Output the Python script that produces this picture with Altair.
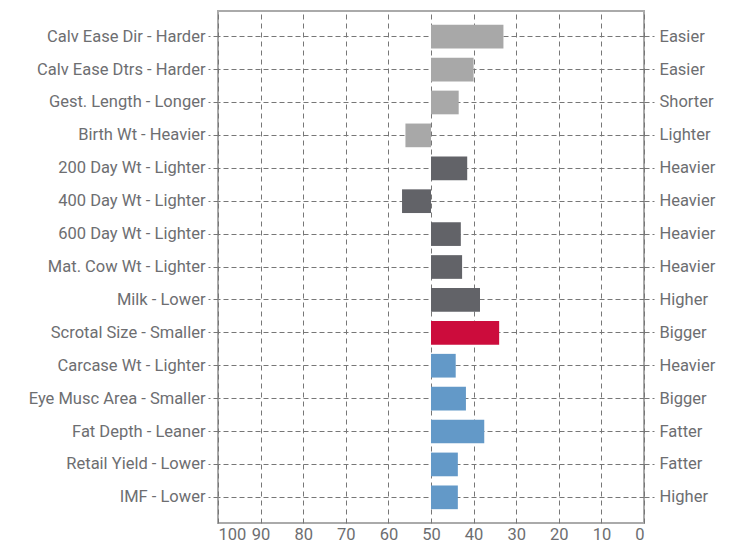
import json
import altair as alt
import pandas as pd

traits = [
    "Calv Ease Dir - Harder", "Calv Ease Dtrs - Harder", "Gest. Length - Longer",
    "Birth Wt - Heavier", "200 Day Wt - Lighter", "400 Day Wt - Lighter",
    "600 Day Wt - Lighter", "Mat. Cow Wt - Lighter", "Milk - Lower",
    "Scrotal Size - Smaller", "Carcase Wt - Lighter", "Eye Musc Area - Smaller",
    "Fat Depth - Leaner", "Retail Yield - Lower", "IMF - Lower",
]
right_labels = [
    "Easier", "Easier", "Shorter", "Lighter", "Heavier", "Heavier", "Heavier",
    "Heavier", "Higher", "Bigger", "Heavier", "Bigger", "Fatter", "Fatter", "Higher",
]
values = [33, 40, 43.5, 56, 41.5, 56.8, 43, 42.7, 38.5, 34, 44.2, 41.8, 37.5, 43.7, 43.7]
base = [50] * 15
groups = ["calving"] * 4 + ["growth"] * 5 + ["fertility"] + ["carcase"] * 5
group_domain = ["calving", "growth", "fertility", "carcase"]
group_colors = ["#a8a8a8", "#626368", "#cc0c3c", "#6399c8"]
x_ticks = [0, 10, 20, 30, 40, 50, 60, 70, 80, 90, 100]

df = pd.DataFrame({"trait": traits, "value": values, "base": base, "group": groups})

FONT = "Roboto"
FS = 16.5
TXT = "#6d6e71"
GRID = "#777777"

yscale = alt.Scale(paddingInner=0.28, paddingOuter=0.42)
xenc = alt.X(
    "value:Q",
    scale=alt.Scale(domain=[0, 100], reverse=True, nice=False),
    axis=alt.Axis(
        title=None, values=x_ticks, grid=True, gridDash=[5, 4], gridColor=GRID,
        gridOpacity=1, ticks=False, domain=False, labelFont=FONT, labelFontSize=FS,
        labelColor=TXT, labelPadding=3,
    ),
)

bars = alt.Chart(df).mark_bar().encode(
    x=xenc,
    x2="base:Q",
    y=alt.Y(
        "trait:N", sort=traits, scale=yscale,
        axis=alt.Axis(
            title=None, orient="left", grid=True, gridDash=[5, 3], gridColor=GRID,
            gridOpacity=1, domain=False, ticks=True, tickSize=10, tickDash=[5, 3],
            tickColor=GRID, labelFont=FONT, labelFontSize=FS, labelColor=TXT,
            labelPadding=3,
        ),
    ),
    color=alt.Color("group:N", scale=alt.Scale(domain=group_domain, range=group_colors), legend=None),
)

label_expr = "%s[indexof(%s, datum.value)]" % (json.dumps(right_labels), json.dumps(traits))

right = alt.Chart(df).mark_bar(opacity=0).encode(
    x=xenc,
    x2="base:Q",
    y=alt.Y(
        "trait:N", sort=traits, scale=yscale,
        axis=alt.Axis(
            title=None, orient="right", grid=False, domain=False, ticks=True, tickSize=10,
            tickDash=[5, 3], tickColor=GRID, labelFont=FONT, labelFontSize=FS,
            labelColor=TXT, labelPadding=5, labelExpr=label_expr,
        ),
    ),
)

chart = (
    alt.layer(bars, right)
    .resolve_axis(y="independent")
    .properties(
        width=426, height=512, background="white",
        padding={"left": 20, "top": 3, "right": 5, "bottom": 0},
    )
    .configure_view(stroke="#aaaaaa", strokeWidth=2)
)

chart.save("out.html", embed_options={"renderer": "svg", "actions": False})
